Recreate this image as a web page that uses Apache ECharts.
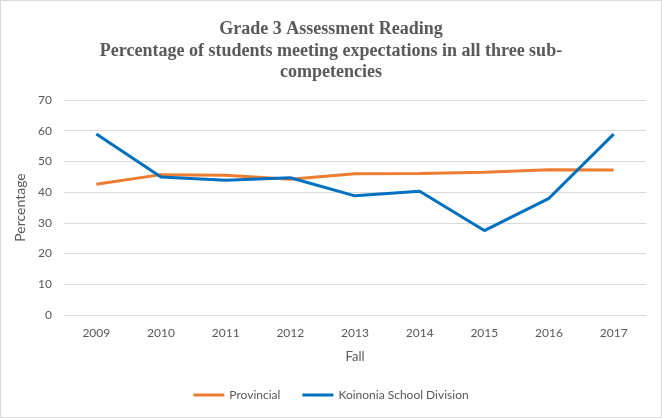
<!DOCTYPE html>
<html><head><meta charset="utf-8">
<script src="https://cdn.jsdelivr.net/npm/echarts@6/dist/echarts.min.js"></script>
<style>html,body{margin:0;padding:0;background:#fff}#c{width:662px;height:418px;box-sizing:border-box;border:1px solid #d9d9d9}</style>
</head><body><div id="c"></div>
<script>
const categories = ['2009','2010','2011','2012','2013','2014','2015','2016','2017'];
const provincial = [42.6, 45.7, 45.5, 44.2, 46.0, 46.1, 46.5, 47.3, 47.2];
const koinonia = [58.9, 44.9, 43.9, 44.7, 38.8, 40.3, 27.5, 38.0, 58.9];
const seriesNames = ['Provincial', 'Koinonia School Division'];
const titleText = 'Grade 3 Assessment Reading\nPercentage of students meeting expectations in all three sub-\ncompetencies';

const chart = echarts.init(document.getElementById('c'));
const lab = {color:'#595959', fontFamily:'Lato, "Open Sans", sans-serif', fontSize:12};
chart.setOption({
  animation:false,
  title:{text:titleText, left:'center', top:13,
    textStyle:{fontFamily:'"Liberation Serif", serif', fontWeight:'bold', fontSize:18, color:'#595959', lineHeight:21.5}},
  grid:{left:63, right:15, top:99, bottom:102},
  legend:{bottom:11, left:'center', itemWidth:31, itemHeight:3, itemGap:22, icon:'rect',
    textStyle:Object.assign({}, lab, {fontSize:12}), data:seriesNames},
  xAxis:{type:'category', data:categories, boundaryGap:true,
    name:'Fall', nameLocation:'middle', nameGap:35, nameTextStyle:Object.assign({}, lab, {fontSize:13}),
    axisLine:{lineStyle:{color:'#d9d9d9'}}, axisTick:{show:false}, axisLabel:Object.assign({margin:12}, lab)},
  yAxis:{type:'value', min:0, max:70, interval:10,
    name:'Percentage', nameLocation:'middle', nameGap:29, nameTextStyle:Object.assign({}, lab, {fontSize:14}),
    axisLine:{show:false}, axisTick:{show:false}, axisLabel:Object.assign({margin:12}, lab),
    splitLine:{lineStyle:{color:'#d9d9d9'}}},
  series:[
    {name:seriesNames[0], type:'line', data:provincial, symbol:'none', color:'#ED7D31', lineStyle:{width:3, color:'#ED7D31'}},
    {name:seriesNames[1], type:'line', data:koinonia, symbol:'none', color:'#0070C0', lineStyle:{width:3, color:'#0070C0'}}
  ]
});
</script></body></html>
